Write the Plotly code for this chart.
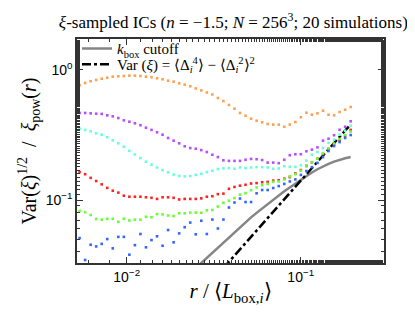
import numpy as np
import plotly.graph_objects as go

# r / <L_box,i> sampling grid (50 log-spaced bins)
r = np.geomspace(0.00536, 0.1936, 50)

orange = [0.763, 0.794, 0.819, 0.838, 0.857, 0.872, 0.888, 0.894, 0.899, 0.904,
          0.904, 0.899, 0.888, 0.879, 0.863, 0.848, 0.827, 0.813, 0.790, 0.771,
          0.749, 0.721, 0.696, 0.671, 0.648, 0.609, 0.577, 0.538, 0.504, 0.467,
          0.445, 0.422, 0.407, 0.396, 0.384, 0.380, 0.380, 0.366, 0.380, 0.398,
          0.433, 0.469, 0.453, 0.464, 0.486, 0.453, 0.448, 0.475, 0.495, 0.519]
purple = [0.467, 0.467, 0.464, 0.461, 0.459, 0.448, 0.440, 0.427, 0.410, 0.400,
          0.389, 0.376, 0.360, 0.346, 0.332, 0.318, 0.300, 0.286, 0.273, 0.259,
          0.251, 0.248, 0.242, 0.234, 0.223, 0.214, 0.202, 0.200, 0.200, 0.200,
          0.204, 0.207, 0.206, 0.203, 0.194, 0.194, 0.192, 0.204, 0.221, 0.225,
          0.225, 0.237, 0.244, 0.254, 0.286, 0.296, 0.315, 0.347, 0.366, 0.403]
cyan = [0.354, 0.346, 0.338, 0.326, 0.318, 0.304, 0.288, 0.273, 0.257, 0.239,
        0.224, 0.210, 0.197, 0.187, 0.178, 0.170, 0.163, 0.157, 0.153, 0.152,
        0.153, 0.156, 0.159, 0.164, 0.168, 0.173, 0.175, 0.176, 0.174, 0.178,
        0.176, 0.178, 0.179, 0.179, 0.178, 0.174, 0.175, 0.182, 0.180, 0.180,
        0.185, 0.201, 0.223, 0.234, 0.251, 0.275, 0.291, 0.318, 0.341, 0.373]
red = [0.164, 0.158, 0.148, 0.140, 0.132, 0.124, 0.118, 0.114, 0.108, 0.106,
       0.106, 0.106, 0.105, 0.104, 0.102, 0.105, 0.105, 0.104, 0.101, 0.102,
       0.102, 0.102, 0.103, 0.106, 0.107, 0.111, 0.112, 0.122, 0.126, 0.129,
       0.131, 0.134, 0.135, 0.137, 0.138, 0.141, 0.142, 0.146, 0.150, 0.160,
       0.170, 0.183, 0.195, 0.208, 0.226, 0.247, 0.267, 0.287, 0.311, 0.346]
green = [0.0823, 0.0806, 0.0767, 0.0714, 0.0706, 0.0717, 0.0717, 0.0680, 0.0718, 0.0696,
         0.0706, 0.0706, 0.0743, 0.0737, 0.0780, 0.0776, 0.0760, 0.0753, 0.0791, 0.0790,
         0.0801, 0.0801, 0.0798, 0.0833, 0.0838, 0.0891, 0.0952, 0.0988, 0.1036, 0.110,
         0.113, 0.119, 0.125, 0.130, 0.133, 0.138, 0.139, 0.144, 0.152, 0.158,
         0.168, 0.182, 0.196, 0.208, 0.228, 0.249, 0.272, 0.295, 0.316, 0.336]
blue = [0.0510, 0.0346, 0.0453, 0.0440, 0.0460, 0.0501, 0.0425, 0.0521, 0.0521, 0.0380,
        0.0450, 0.0548, 0.0433, 0.0492, 0.0526, 0.0445, 0.0588, 0.0473, 0.0554, 0.0618,
        0.0671, 0.0545, 0.0693, 0.0548, 0.0708, 0.0604, 0.0708, 0.0876, 0.0957, 0.1027,
        0.0965, 0.0965, 0.1126, 0.1194, 0.1194, 0.1237, 0.128, 0.133, 0.139, 0.144,
        0.156, 0.167, 0.179, 0.193, 0.214, 0.238, 0.260, 0.279, 0.300, 0.316]

# k_box cutoff curve (bins 20..49)
kbox = [0.0274, 0.0300, 0.0329, 0.0360, 0.0395, 0.0433, 0.0474, 0.0518, 0.0567, 0.0620,
        0.0677, 0.0736, 0.0797, 0.0863, 0.0933, 0.1009, 0.1089, 0.1169, 0.1250, 0.1339,
        0.1433, 0.1530, 0.1628, 0.1725, 0.1816, 0.1898, 0.1974, 0.2042, 0.2097, 0.2142]
# Var(xi) = <D^4> - <D^2>^2 curve (bins 26..49)
varxi = [0.0300, 0.0335, 0.0374, 0.0418, 0.0467, 0.0522, 0.0583, 0.0651, 0.0727, 0.0812,
         0.0907, 0.1013, 0.1131, 0.1263, 0.1411, 0.1576, 0.1760, 0.1966, 0.2196, 0.2453,
         0.2740, 0.3060, 0.3418, 0.3817]

x_tickvals = [0.01, 0.1]
x_ticktext = ["10<sup>−2</sup>", "10<sup>−1</sup>"]
y_tickvals = [0.1, 1]
y_ticktext = ["10<sup>−1</sup>", "10<sup>0</sup>"]

series = [("orange", orange, "#ffa050"), ("purple", purple, "#b84dff"),
          ("cyan", cyan, "#66ffd9"), ("red", red, "#ff2222"),
          ("green", green, "#66ff33"), ("blue", blue, "#3366ff")]

SERIF = "Liberation Serif"
SANS = "Liberation Sans"

fig = go.Figure()
fig.add_trace(go.Scatter(x=r[20:], y=kbox, mode="lines",
                         line=dict(color="#858585", width=2.5),
                         name="<i>k</i><sub>box</sub> cutoff", legend="legend"))
fig.add_trace(go.Scatter(x=r[26:], y=varxi, mode="lines",
                         line=dict(color="black", width=2.5, dash="dashdot"),
                         name="Var (<i>ξ</i>) = ⟨Δ<sub><i>i</i></sub><sup>4</sup>⟩ − ⟨Δ<sub><i>i</i></sub><sup>2</sup>⟩<sup>2</sup>",
                         legend="legend2"))
for name, vals, col in series:
    fig.add_trace(go.Scatter(x=r, y=vals, mode="markers", showlegend=False,
                             marker=dict(symbol="square", size=2.6, color=col,
                                         line=dict(width=0)),
                             name=name))

axis_common = dict(type="log", showgrid=False, zeroline=False, showline=True,
                   linecolor="#333333", linewidth=1.5, mirror="ticks",
                   ticks="inside", ticklen=6, tickcolor="#333333",
                   tickfont=dict(family=SANS, size=14, color="black"),
                   minor=dict(ticks="inside", ticklen=3, tickcolor="#333333",
                              showgrid=False))

fig.update_xaxes(**axis_common, range=[np.log10(0.00518), np.log10(0.301)],
                 tickvals=x_tickvals, ticktext=x_ticktext,
                 title=dict(text="<i>r</i> / ⟨<i>L</i><sub>box,<i>i</i></sub>⟩",
                            font=dict(family=SERIF, size=21, color="black"),
                            standoff=0))
fig.update_yaxes(**axis_common, range=[np.log10(0.0328), np.log10(1.73)],
                 tickvals=y_tickvals, ticktext=y_ticktext,
                 title=dict(text="Var(<i>ξ</i>)<sup>1/2</sup>  /  <i>ξ</i><sub>pow</sub>(<i>r</i>)",
                            font=dict(family=SERIF, size=20, color="black"),
                            standoff=4))

leg_common = dict(xanchor="left", yanchor="middle", bgcolor="rgba(0,0,0,0)",
                  borderwidth=0, font=dict(family=SERIF, size=15, color="black"),
                  itemwidth=30)

fig.update_layout(
    width=415, height=313,
    margin=dict(l=69, r=39, t=31, b=58),
    paper_bgcolor="white", plot_bgcolor="white",
    title=dict(text="<i>ξ</i>-sampled ICs (<i>n</i> = −1.5; <i>N</i> = 256<sup>3</sup>; 20 simulations)",
               font=dict(family=SERIF, size=17, color="black"),
               x=0.543, xanchor="center", y=0.955, yanchor="middle"),
    legend=dict(x=0.0, y=0.956, **leg_common),
    legend2=dict(x=0.0, y=0.886, **leg_common),
)

fig.write_html("out.html")
